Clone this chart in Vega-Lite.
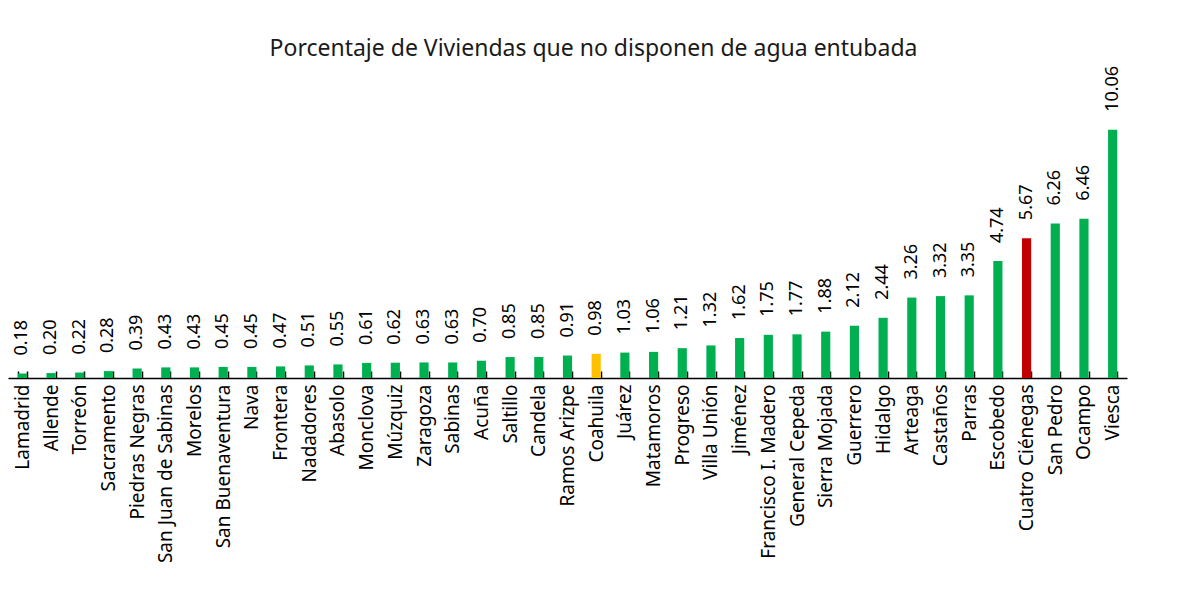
{
  "$schema": "https://vega.github.io/schema/vega-lite/v6.json",
  "autosize": {"type": "none"},
  "width": 1119,
  "height": 296,
  "padding": {"left": 8, "top": 82, "right": 50, "bottom": 238},
  "background": "white",
  "title": {
    "text": "Porcentaje de Viviendas que no disponen de agua entubada",
    "font": "Noto Sans",
    "fontSize": 23,
    "fontWeight": "normal",
    "color": "#1a1a1a",
    "anchor": "middle",
    "dx": 26,
    "offset": 5
  },
  "data": {
    "values": [
      {"municipio": "Lamadrid", "valor": 0.18, "tipo": "m"},
      {"municipio": "Allende", "valor": 0.20, "tipo": "m"},
      {"municipio": "Torreón", "valor": 0.22, "tipo": "m"},
      {"municipio": "Sacramento", "valor": 0.28, "tipo": "m"},
      {"municipio": "Piedras Negras", "valor": 0.39, "tipo": "m"},
      {"municipio": "San Juan de Sabinas", "valor": 0.43, "tipo": "m"},
      {"municipio": "Morelos", "valor": 0.43, "tipo": "m"},
      {"municipio": "San Buenaventura", "valor": 0.45, "tipo": "m"},
      {"municipio": "Nava", "valor": 0.45, "tipo": "m"},
      {"municipio": "Frontera", "valor": 0.47, "tipo": "m"},
      {"municipio": "Nadadores", "valor": 0.51, "tipo": "m"},
      {"municipio": "Abasolo", "valor": 0.55, "tipo": "m"},
      {"municipio": "Monclova", "valor": 0.61, "tipo": "m"},
      {"municipio": "Múzquiz", "valor": 0.62, "tipo": "m"},
      {"municipio": "Zaragoza", "valor": 0.63, "tipo": "m"},
      {"municipio": "Sabinas", "valor": 0.63, "tipo": "m"},
      {"municipio": "Acuña", "valor": 0.70, "tipo": "m"},
      {"municipio": "Saltillo", "valor": 0.85, "tipo": "m"},
      {"municipio": "Candela", "valor": 0.85, "tipo": "m"},
      {"municipio": "Ramos Arizpe", "valor": 0.91, "tipo": "m"},
      {"municipio": "Coahuila", "valor": 0.98, "tipo": "estado"},
      {"municipio": "Juárez", "valor": 1.03, "tipo": "m"},
      {"municipio": "Matamoros", "valor": 1.06, "tipo": "m"},
      {"municipio": "Progreso", "valor": 1.21, "tipo": "m"},
      {"municipio": "Villa Unión", "valor": 1.32, "tipo": "m"},
      {"municipio": "Jiménez", "valor": 1.62, "tipo": "m"},
      {"municipio": "Francisco I. Madero", "valor": 1.75, "tipo": "m"},
      {"municipio": "General Cepeda", "valor": 1.77, "tipo": "m"},
      {"municipio": "Sierra Mojada", "valor": 1.88, "tipo": "m"},
      {"municipio": "Guerrero", "valor": 2.12, "tipo": "m"},
      {"municipio": "Hidalgo", "valor": 2.44, "tipo": "m"},
      {"municipio": "Arteaga", "valor": 3.26, "tipo": "m"},
      {"municipio": "Castaños", "valor": 3.32, "tipo": "m"},
      {"municipio": "Parras", "valor": 3.35, "tipo": "m"},
      {"municipio": "Escobedo", "valor": 4.74, "tipo": "m"},
      {"municipio": "Cuatro Ciénegas", "valor": 5.67, "tipo": "destacado"},
      {"municipio": "San Pedro", "valor": 6.26, "tipo": "m"},
      {"municipio": "Ocampo", "valor": 6.46, "tipo": "m"},
      {"municipio": "Viesca", "valor": 10.06, "tipo": "m"}
    ]
  },
  "encoding": {
    "x": {
      "field": "municipio",
      "type": "nominal",
      "sort": null,
      "scale": {"paddingInner": 0.68, "paddingOuter": 0.34},
      "axis": {
        "title": null,
        "labelAngle": 270,
        "labelAlign": "right",
        "labelBaseline": "middle",
        "labelFont": "Noto Sans",
        "labelFontSize": 19,
        "labelColor": "#000000",
        "labelPadding": 13,
        "ticks": true,
        "tickBand": "extent",
        "tickExtra": true,
        "tickSize": -7,
        "tickColor": "#000000",
        "tickWidth": 1.5,
        "domainColor": "#000000",
        "domainWidth": 1.5,
        "grid": false
      }
    },
    "y": {
      "field": "valor",
      "type": "quantitative",
      "scale": {"domain": [0, 12], "nice": false},
      "axis": null
    }
  },
  "layer": [
    {
      "mark": {"type": "bar"},
      "encoding": {
        "color": {
          "field": "tipo",
          "type": "nominal",
          "scale": {"domain": ["m", "estado", "destacado"], "range": ["#00B050", "#FFC000", "#C00000"]},
          "legend": null
        }
      }
    },
    {
      "mark": {
        "type": "text",
        "angle": 270,
        "align": "left",
        "baseline": "middle",
        "dx": 18,
        "font": "Noto Sans",
        "fontSize": 18,
        "color": "#000000"
      },
      "encoding": {
        "text": {"field": "valor", "type": "quantitative", "format": ".2f"}
      }
    }
  ],
  "config": {"view": {"stroke": null}}
}
